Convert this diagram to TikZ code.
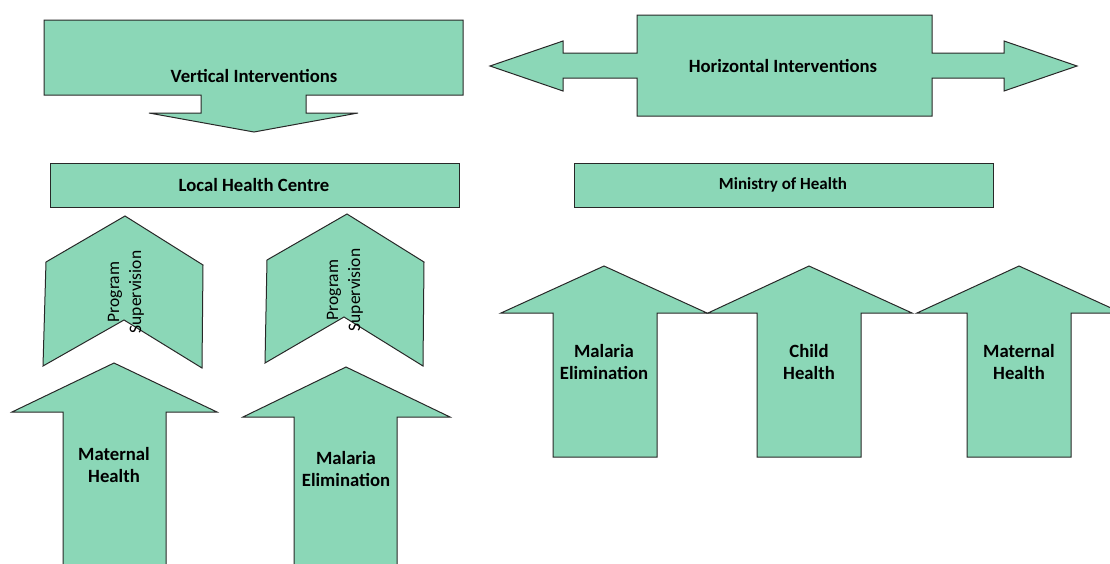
\documentclass[tikz,border=0pt]{standalone}
\usepackage{fontspec}
\setmainfont{Carlito}
\definecolor{boxfill}{RGB}{139,215,183}
\definecolor{boxline}{RGB}{40,40,40}
\tikzset{
  shp/.style={draw=boxline, fill=boxfill, line width=1pt, line join=miter},
  lbl/.style={font=\fontsize{18.7}{22}\selectfont\bfseries, align=center, inner sep=0pt, text=black},
  slbl/.style={font=\fontsize{17}{22}\selectfont\bfseries, align=center, inner sep=0pt, text=black},
  rlbl/.style={font=\fontsize{17.5}{22}\selectfont, align=center, inner sep=0pt, text=black, rotate=90}
}
\begin{document}
\begin{tikzpicture}[x=1pt,y=-1pt]
\path[use as bounding box] (0,0) rectangle (1110,563);
\clip (0,0) rectangle (1110,563);
% Vertical interventions callout
\draw[shp] (44,20) -- (463,20) -- (463,95) -- (306,95) -- (306,113) -- (358,113) -- (254,132) -- (149,113) -- (201,113) -- (201,95) -- (44,95) -- cycle;
\node[lbl] (vert) at (254,76) {Vertical Interventions};
% Horizontal interventions callout
\draw[shp] (637,15) -- (932,15) -- (932,53) -- (1004,53) -- (1004,41) -- (1077,66) -- (1004,91) -- (1004,78) -- (932,78) -- (932,116) -- (637,116) -- (637,78) -- (563,78) -- (563,91) -- (490,66) -- (563,41) -- (563,53) -- (637,53) -- cycle;
\node[lbl] (horiz) at (783,66) {Horizontal Interventions};
% bars
\draw[shp] (50,163) rectangle (459,207);
\node[lbl] (local) at (254,185) {Local Health Centre};
\draw[shp] (574,163) rectangle (993,207);
\node[slbl] (moh) at (783,185) {Ministry of Health};
% chevrons
\draw[shp] (125,216) -- (203,265) -- (202,368) -- (124,320) -- (43,366) -- (46,262) -- cycle;
\node[rlbl] (ps1) at (126,292) {Program\\Supervision};
\draw[shp] (347,214) -- (424,262) -- (423,366) -- (344,317) -- (265,363) -- (267,260) -- cycle;
\node[rlbl] (ps2) at (345,290) {Program\\Supervision};
% left up arrows
\draw[shp] (114,363) -- (217,412) -- (166,412) -- (166,575) -- (63,575) -- (63,412) -- (12,412) -- cycle;
\node[lbl] (mh1) at (114,465) {Maternal\\Health};
\draw[shp] (346,367) -- (450,417) -- (397,417) -- (397,575) -- (294,575) -- (294,417) -- (243,417) -- cycle;
\node[lbl] (me1) at (346,469) {Malaria\\Elimination};
% right up arrows
\draw[shp] (604,266) -- (707,313) -- (657,313) -- (657,457) -- (553,457) -- (553,313) -- (501,313) -- cycle;
\node[lbl] (me2) at (604,362) {Malaria\\Elimination};
\draw[shp] (809,266) -- (912,313) -- (861,313) -- (861,457) -- (757,457) -- (757,313) -- (708,313) -- cycle;
\node[lbl] (ch) at (809,362) {Child\\Health};
\draw[shp] (1019,266) -- (1122,313) -- (1071,313) -- (1071,457) -- (967,457) -- (967,313) -- (917,313) -- cycle;
\node[lbl] (mh2) at (1019,362) {Maternal\\Health};
\end{tikzpicture}
\end{document}
